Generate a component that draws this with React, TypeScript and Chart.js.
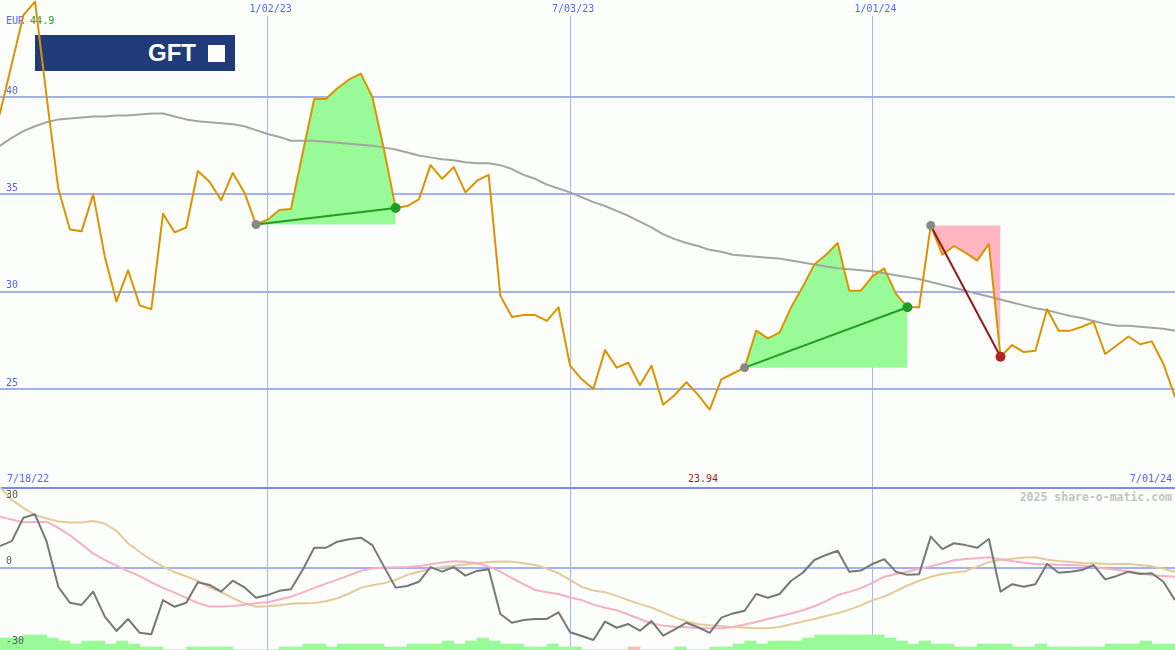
import React, { useEffect, useRef } from "react";
import { Chart, registerables } from "chart.js";

Chart.register(...registerables);

// Weekly closes, 7/18/22 .. 7/01/24 (index = week number)
const PRICE = [
  37.6, 39.2, 41.7, 44.2, 44.9, 40.0, 35.3, 33.2, 33.1, 35.0,
  31.8, 29.5, 31.1, 29.3, 29.1, 34.0, 33.05, 33.3, 36.2, 35.65,
  34.7, 36.1, 35.1, 33.45, 33.7, 34.2, 34.25, 37.1, 39.9, 39.9,
  40.45, 40.9, 41.2, 40.0, 37.3, 34.3, 34.4, 34.74, 36.5, 35.8,
  36.4, 35.1, 35.7, 36.0, 29.8, 28.7, 28.8, 28.8, 28.5, 29.2,
  26.2, 25.5, 25.0, 27.0, 26.1, 26.35, 25.2, 26.2, 24.2, 24.7,
  25.35, 24.7, 23.94, 25.5, 25.8, 26.1, 28.0, 27.6, 27.9, 29.2,
  30.25, 31.4, 31.9, 32.5, 30.05, 30.05, 30.8, 31.2, 29.9, 29.2,
  29.2, 33.4, 31.9, 32.35, 32.0, 31.6, 32.45, 26.66, 27.26, 26.9,
  26.97, 29.1, 28.0, 28.0, 28.2, 28.45, 26.8, 27.25, 27.7, 27.3,
  27.45, 26.3, 24.6,
];

const PRICE_MA = [
  37.0, 37.5, 37.9, 38.25, 38.5, 38.7, 38.85, 38.9, 38.95, 39.0,
  39.0, 39.05, 39.05, 39.1, 39.15, 39.15, 39.0, 38.85, 38.75, 38.7,
  38.65, 38.6, 38.5, 38.3, 38.1, 37.95, 37.75, 37.75, 37.75, 37.7,
  37.65, 37.6, 37.55, 37.5, 37.4, 37.3, 37.15, 37.0, 36.9, 36.8,
  36.75, 36.65, 36.6, 36.6, 36.5, 36.3, 36.0, 35.8, 35.5, 35.3,
  35.1, 34.85, 34.6, 34.4, 34.15, 33.9, 33.6, 33.3, 32.95, 32.7,
  32.5, 32.35, 32.15, 32.05, 31.9, 31.85, 31.8, 31.75, 31.7, 31.6,
  31.5, 31.4, 31.3, 31.2, 31.15, 31.1, 31.05, 30.95, 30.85, 30.75,
  30.65, 30.5, 30.35, 30.2, 30.05, 29.9, 29.75, 29.6, 29.45, 29.3,
  29.15, 29.05, 28.9, 28.75, 28.65, 28.5, 28.35, 28.25, 28.25, 28.2,
  28.15, 28.1, 28.0,
];

const MOMENTUM = [
  6.7, 8.2, 10.0, 18.8, 20.1, 9.8, -7.2, -13.2, -14.0, -9.0,
  -18.4, -23.8, -19.3, -24.5, -25.0, -12.2, -14.7, -13.2, -5.5, -6.5,
  -9.0, -4.9, -7.4, -11.3, -10.3, -8.7, -8.1, -0.9, 7.5, 7.5,
  9.8, 10.7, 11.3, 8.5, 0.4, -7.5, -6.9, -5.3, 0.2, -1.5,
  0.2, -3.0, -1.2, -0.6, -17.4, -20.7, -19.7, -19.3, -19.3, -16.8,
  -24.3, -25.7, -27.2, -20.3, -22.6, -21.2, -23.7, -20.1, -25.6, -23.2,
  -20.7, -22.4, -24.5, -18.8, -17.2, -16.2, -9.9, -11.3, -9.9, -4.9,
  -1.9, 2.9, 4.8, 6.4, -1.5, -1.1, 1.4, 3.2, -1.5, -2.7,
  -2.5, 11.7, 7.0, 9.2, 8.5, 7.5, 10.8, -9.0, -6.2, -7.2,
  -6.2, 1.4, -1.9, -1.5, -0.9, 1.0, -4.4, -3.1, -1.5, -2.4,
  -2.1, -5.3, -12.2,
];

const SIGNAL_FAST = [
  20.2, 19.2, 18.1, 17.1, 17.2, 17.3, 15.0, 12.2, 8.8, 5.3,
  2.9, 0.8, -1.3, -3.2, -5.5, -7.6, -9.4, -11.3, -13.3, -14.6,
  -14.6, -14.4, -13.9, -13.4, -13.0, -12.0, -10.9, -9.4, -7.6, -6.0,
  -4.5, -2.9, -1.2, -0.3, 0.0, 0.2, 0.3, 0.5, 1.3, 2.0,
  2.4, 2.2, 1.7, 0.4, -1.5, -3.9, -6.2, -8.4, -9.2, -9.9,
  -11.2, -12.2, -13.9, -15.1, -16.0, -17.6, -19.3, -21.0, -21.8, -22.2,
  -22.4, -22.7, -22.8, -22.8, -22.3, -21.4, -20.4, -19.3, -18.3, -17.2,
  -16.0, -14.5, -12.6, -10.3, -9.1, -7.7, -5.7, -3.4, -2.4, -1.5,
  -0.4, 0.5, 1.7, 2.8, 3.3, 3.6, 3.9, 3.2, 2.5, 1.9,
  1.4, 1.3, 1.1, 1.0, 0.8, 0.3, -0.3, -0.8, -1.4, -2.1,
  -2.8, -3.1, -3.4,
];

const SIGNAL_SLOW = [
  32.0, 30.2, 25.5, 22.5, 19.8, 18.5, 17.4, 17.0, 17.0, 17.6,
  16.6, 13.9, 9.2, 5.9, 2.9, 0.4, -1.7, -3.2, -5.0, -7.4,
  -9.2, -11.4, -13.4, -14.7, -14.5, -14.1, -13.6, -13.4, -13.3, -12.6,
  -11.5, -9.7, -7.6, -6.6, -5.8, -4.6, -2.7, -1.5, -0.4, 0.3,
  0.7, 1.2, 1.7, 2.1, 2.3, 2.2, 1.7, 1.0, -0.4, -2.1,
  -4.6, -7.2, -8.6, -9.2, -10.6, -12.2, -13.7, -15.0, -16.8, -18.7,
  -20.2, -21.3, -21.7, -22.0, -22.3, -22.5, -22.8, -22.8, -22.3, -21.3,
  -20.3, -19.3, -18.2, -17.1, -15.8, -14.2, -12.2, -10.9, -8.8, -6.7,
  -4.9, -3.4, -2.4, -1.8, -1.3, 0.4, 2.1, 2.9, 3.4, 3.8,
  3.9, 3.0, 2.5, 2.1, 1.8, 1.7, 1.5, 1.4, 1.4, 1.0,
  0.5, -0.4, -1.5,
];

// Histogram between consecutive weeks (bar k spans week k .. k+1)
const HIST_UP = [
  4, 4, 4, 5, 5, 4, 3, 2, 3, 3,
  2, 3, 2, 1, 1, 0, 0, 1, 1, 1,
  1, 0, 0, 0, 0, 1, 1, 2, 2, 1,
  2, 2, 2, 2, 1, 1, 2, 2, 2, 3,
  2, 3, 4, 3, 2, 2, 1, 1, 2, 1,
  1, 0, 0, 0, 0, 0, 0, 0, 0, 1,
  0, 0, 1, 1, 2, 3, 2, 3, 3, 3,
  4, 5, 5, 5, 5, 5, 5, 4, 3, 2,
  3, 2, 2, 1, 1, 2, 2, 2, 1, 1,
  2, 1, 1, 1, 1, 1, 2, 2, 2, 3,
  2, 2,
];
const HIST_DOWN = HIST_UP.map((_, k) => (k === 55 ? 1 : 0));

const DATE_TICKS = [24, 50, 76];
const DATE_LABELS = ["1/02/23", "7/03/23", "1/01/24"];
const PRICE_TICKS = [25, 30, 35, 40];
const OSC_TICKS = [-30, 0, 30];

const TRADE_START = [23, 65, 81];
const TRADE_END = [35, 79, 87];
const TRADE_WIN = [true, true, false];

const START_LABEL = "7/18/22";
const END_LABEL = "7/01/24";
const CURRENCY = "EUR";
const LOGO = "GFT";
const CREDIT = "2025 share-o-matic.com";

const FONT = "'DejaVu Sans Mono', monospace";
const BLUE = "#5566ee";
const GREEN_FILL = "#98fb98";
const PINK_FILL = "#ffb6c1";

const pts = (arr: number[]) => arr.map((y, i) => ({ x: i, y }));

const noPad = (s: any) => {
  s.paddingTop = 0;
  s.paddingBottom = 0;
  s.paddingLeft = 0;
  s.paddingRight = 0;
};

export default function App() {
  const ref = useRef<HTMLCanvasElement | null>(null);

  useEffect(() => {
    if (!ref.current) return;
    const line = { type: "line", pointRadius: 0, tension: 0, fill: false, borderJoinStyle: "round" };

    const datasets: any[] = [];
    // markers
    datasets.push({
      ...line,
      showLine: false,
      yAxisID: "yp",
      order: 0,
      clip: false,
      data: [
        ...TRADE_START.map((s) => ({ x: s, y: PRICE[s] })),
        ...TRADE_END.map((e) => ({ x: e, y: PRICE[e] })),
      ],
      pointRadius: [...TRADE_START.map(() => 4.5), ...TRADE_END.map(() => 5)],
      pointBorderWidth: 0,
      pointBackgroundColor: [
        ...TRADE_START.map(() => "#888888"),
        ...TRADE_WIN.map((w) => (w ? "#229c22" : "#b22222")),
      ],
    });
    // trade connectors
    TRADE_START.forEach((s, k) => {
      const e = TRADE_END[k];
      datasets.push({
        ...line,
        yAxisID: "yp",
        order: 1,
        borderWidth: 2,
        borderColor: TRADE_WIN[k] ? "#229c22" : "#991818",
        data: [
          { x: s, y: PRICE[s] },
          { x: e, y: PRICE[e] },
        ],
      });
    });
    // price
    datasets.push({ ...line, yAxisID: "yp", order: 2, clip: false, borderWidth: 2, borderColor: "#dd9300", data: pts(PRICE) });
    // moving average
    datasets.push({ ...line, yAxisID: "yp", order: 3, borderWidth: 2, borderColor: "#a4a4a4", data: pts(PRICE_MA) });
    // trade fills
    TRADE_START.forEach((s, k) => {
      const e = TRADE_END[k];
      const seg = [];
      for (let i = s; i <= e; i++) seg.push({ x: i, y: PRICE[i] });
      datasets.push({
        ...line,
        yAxisID: "yp",
        order: 4,
        borderWidth: 0,
        borderColor: "rgba(0,0,0,0)",
        backgroundColor: TRADE_WIN[k] ? GREEN_FILL : PINK_FILL,
        fill: { value: PRICE[s] },
        data: seg,
      });
    });
    // oscillator panel
    datasets.push({ ...line, yAxisID: "yo", order: 5, borderWidth: 2, borderColor: "#777777", data: pts(MOMENTUM) });
    datasets.push({ ...line, yAxisID: "yo", order: 6, borderWidth: 2, borderColor: "#f7aec6", data: pts(SIGNAL_FAST) });
    datasets.push({ ...line, yAxisID: "yo", order: 7, borderWidth: 2, borderColor: "#e3cb98", data: pts(SIGNAL_SLOW) });
    datasets.push({
      type: "bar",
      yAxisID: "yh",
      order: 8,
      grouped: false,
      barPercentage: 1,
      categoryPercentage: 1,
      borderWidth: 0,
      backgroundColor: GREEN_FILL,
      data: HIST_UP.map((v, k) => ({ x: k + 0.5, y: v })),
    });
    datasets.push({
      type: "bar",
      yAxisID: "yh",
      order: 9,
      grouped: false,
      barPercentage: 1,
      categoryPercentage: 1,
      borderWidth: 0,
      backgroundColor: PINK_FILL,
      data: HIST_DOWN.map((v, k) => ({ x: k + 0.5, y: v })),
    });

    const tickFont = { family: FONT, size: 10 };

    const chart = new Chart(ref.current, {
      type: "line",
      data: { datasets },
      options: {
        animation: false,
        responsive: false,
        devicePixelRatio: 1,
        events: [],
        layout: { padding: 0, autoPadding: false },
        plugins: { legend: { display: false }, tooltip: { enabled: false }, title: { display: false } },
        scales: {
          x: {
            type: "linear",
            position: "top",
            min: 0.989,
            max: 102.0,
            offset: false,
            afterBuildTicks: (s: any) => {
              s.ticks = DATE_TICKS.map((v) => ({ value: v }));
            },
            afterFit: (s: any) => {
              s.height = 16;
              noPad(s);
            },
            ticks: {
              autoSkip: false,
              maxRotation: 0,
              padding: 1,
              labelOffset: 3,
              color: BLUE,
              font: tickFont,
              callback: (v: any) => {
                const i = DATE_TICKS.indexOf(v);
                return i >= 0 ? DATE_LABELS[i] : "";
              },
            },
            grid: { color: "#a9b5f5", lineWidth: 1, drawTicks: false, offset: false },
            border: { display: false },
          },
          yp: {
            type: "linear",
            position: "left",
            min: 11.6,
            max: 44.16,
            afterBuildTicks: (s: any) => {
              s.ticks = PRICE_TICKS.map((v) => ({ value: v }));
            },
            afterFit: (s: any) => {
              s.width = 0;
              noPad(s);
            },
            ticks: { mirror: true, padding: 6, labelOffset: -6, color: BLUE, font: tickFont, callback: (v: any) => String(v) },
            grid: { color: "#a3b0f2", lineWidth: 2, drawTicks: false },
            border: { display: false },
          },
          yo: {
            type: "linear",
            position: "left",
            min: -30.97,
            max: 207.6,
            afterBuildTicks: (s: any) => {
              s.ticks = OSC_TICKS.map((v) => ({ value: v }));
            },
            afterFit: (s: any) => {
              s.width = 0;
              noPad(s);
            },
            ticks: {
              z: 1,
              mirror: true,
              padding: 6,
              labelOffset: -6,
              color: "#555555",
              font: { family: FONT, size: 10, lineHeight: 1.35 },
              callback: (v: any) => (v === 30 ? ["", "", "30"] : String(v)),
            },
            grid: {
              drawTicks: false,
              lineWidth: 2,
              color: (ctx: any) =>
                ctx.tick && ctx.tick.value === 30
                  ? "#7a8af2"
                  : ctx.tick && ctx.tick.value === 0
                  ? "#a3b0f2"
                  : "rgba(0,0,0,0)",
            },
            border: { display: false },
          },
          yh: {
            type: "linear",
            display: false,
            min: 0,
            max: 211.33,
            afterFit: (s: any) => {
              s.width = 0;
              noPad(s);
            },
          },
        },
      } as any,
    } as any);
    return () => chart.destroy();
  }, []);

  const maxPrice = Math.max(...PRICE).toFixed(1);
  const minPrice = Math.min(...PRICE).toFixed(2);

  const txt = (s: any): any => ({
    position: "absolute",
    fontFamily: FONT,
    fontSize: 10,
    lineHeight: "12px",
    whiteSpace: "pre",
    ...s,
  });

  return (
    <div style={{ position: "absolute", left: 0, top: 0, width: 1175, height: 650, background: "#fcfefc", overflow: "hidden" }}>
      <div style={{ position: "absolute", left: 35, top: 35, width: 200, height: 36, background: "#1f3b79" }}>
        <span
          style={{
            position: "absolute",
            left: 113,
            top: 6,
            fontFamily: "'Liberation Sans', Arial, sans-serif",
            fontWeight: 700,
            fontSize: 24,
            lineHeight: "24px",
            color: "#ffffff",
          }}
        >
          {LOGO}
        </span>
        <div style={{ position: "absolute", left: 173, top: 10, width: 17, height: 17, background: "#ffffff" }} />
      </div>
      <div style={txt({ left: 6, top: 15, color: BLUE })}>
        {CURRENCY} <span style={{ color: "#22a022" }}>{maxPrice}</span>
      </div>
      <div style={txt({ left: 7, top: 473, color: BLUE })}>{START_LABEL}</div>
      <div style={txt({ left: 703, top: 473, color: "#a01c1c", transform: "translateX(-50%)" })}>{minPrice}</div>
      <div style={txt({ right: 3, top: 473, color: BLUE })}>{END_LABEL}</div>
      <div style={txt({ right: 3, top: 491, color: "#c4c4c4", fontWeight: 700, fontSize: 11.5, lineHeight: "13px" })}>{CREDIT}</div>
      <canvas ref={ref} width={1175} height={650} style={{ position: "absolute", left: 0, top: 0, width: 1175, height: 650 }} />
    </div>
  );
}
